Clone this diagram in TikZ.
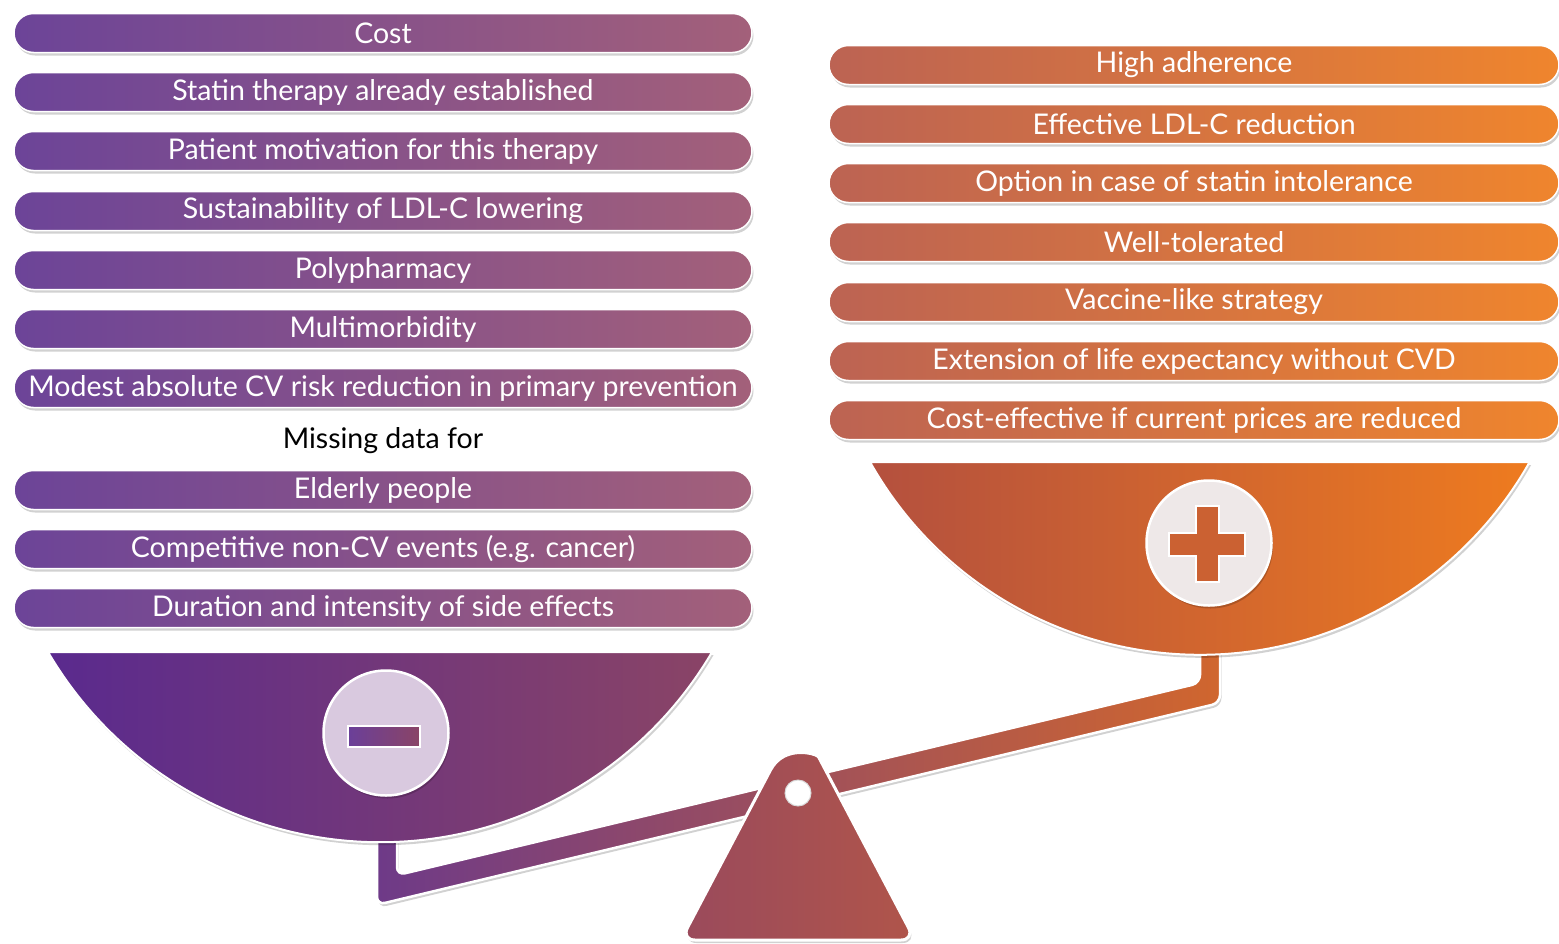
\documentclass[tikz,border=0pt]{standalone}
\usepackage{fontspec}
\setmainfont{Lato}
\usetikzlibrary{shapes.misc,shadows}
\definecolor{lbarL}{HTML}{6C4498}
\definecolor{lbarR}{HTML}{A3607A}
\definecolor{rbarL}{HTML}{BC6353}
\definecolor{rbarR}{HTML}{EF852D}
\definecolor{lbowlL}{HTML}{5A2A8E}
\definecolor{lbowlR}{HTML}{8A4466}
\definecolor{rbowlL}{HTML}{B4503E}
\definecolor{rbowlR}{HTML}{EE7B1F}
\definecolor{beamL}{HTML}{6E3A88}
\definecolor{beamR}{HTML}{D0662E}
\definecolor{fulL}{HTML}{9A4A5C}
\definecolor{fulR}{HTML}{B0554A}
\definecolor{minusfill}{HTML}{D9C9DF}
\definecolor{plusfill}{HTML}{EEE8E8}
\newcommand{\barfont}{\fontsize{28.5}{33}\selectfont}
\begin{document}
\begin{tikzpicture}[x=1pt,y=-1pt,
  softshadow/.style={drop shadow={shadow xshift=1.5pt,shadow yshift=-3pt,opacity=0.18,fill=black}},
  lbar/.style={rounded rectangle, minimum width=738pt, minimum height=39pt, inner sep=0pt,
    left color=lbarL, right color=lbarR, draw=white, line width=1.5pt, text=white, font=\barfont, softshadow},
  rbar/.style={rounded rectangle, minimum width=730pt, minimum height=39pt, inner sep=0pt,
    left color=rbarL, right color=rbarR, draw=white, line width=1.5pt, text=white, font=\barfont, softshadow},
  bowl/.style={draw=white, line width=2pt, softshadow},
  badge/.style={circle, minimum size=125pt, inner sep=0pt, draw=white, line width=2.5pt, softshadow},
]
\useasboundingbox (0,0) rectangle (1559,943);

% beam with stems
\path[left color=beamL, right color=beamR, draw=white, line width=2.5pt, rounded corners=8pt, softshadow]
  (377,830) -- (377,904.8) -- (1220,702.95) -- (1220,640) -- (1200,640)
  -- (1200,683.0) -- (397,875.2) -- (397,830) -- cycle;

% left bowl
\path[bowl, left color=lbowlL, right color=lbowlR]
  (48,652) arc[start angle=149.6, end angle=30.4, radius=385] -- cycle;
% right bowl
\path[bowl, left color=rbowlL, right color=rbowlR]
  (870,462) arc[start angle=150.6, end angle=29.4, radius=378.6] -- cycle;

% fulcrum
\path[left color=fulL, right color=fulR, draw=white, line width=3pt, softshadow]
  (770.9,769.3) [rounded corners=14pt] -- (681,940) -- (915,940) -- (825.1,769.3) [sharp corners]
  arc[start angle=-27.8, end angle=-152.2, radius=30.6] -- cycle;
\node[circle, minimum size=26pt, inner sep=0pt, fill=white, draw=white!85!black, line width=1pt] (hole) at (798,793) {};

% minus badge
\node[badge, fill=minusfill] (minus) at (386,733) {};
\node[rectangle, minimum width=72pt, minimum height=21pt, inner sep=0pt, left color=lbowlL!90!white, right color=lbowlR, draw=white, line width=2pt] (minusbar) at (384,736.5) {};

% plus badge
\node[badge, fill=plusfill] (plus) at (1209,543) {};
\path[fill=rbowlL!60!rbowlR, draw=white, line width=2pt]
  (1195.5,506) -- (1218.5,506) -- (1218.5,532.5) -- (1245,532.5) -- (1245,555.5) -- (1218.5,555.5)
  -- (1218.5,582) -- (1195.5,582) -- (1195.5,555.5) -- (1169,555.5) -- (1169,532.5) -- (1195.5,532.5) -- cycle;

% left bars
\node[lbar] (l1) at (383,33) {Cost};
\node[lbar] (l2) at (383,92) {Statin therapy already established};
\node[lbar] (l3) at (383,151) {Patient motivation for this therapy};
\node[lbar] (l4) at (383,211) {Sustainability of LDL-C lowering};
\node[lbar] (l5) at (383,270) {Polypharmacy};
\node[lbar] (l6) at (383,329) {Multimorbidity};
\node[lbar] (l7) at (383,388) {Modest absolute CV risk reduction in primary prevention};
\node[font=\barfont, text=black] (missing) at (383,441) {Missing data for};
\node[lbar] (l8) at (383,490) {Elderly people};
\node[lbar] (l9) at (383,549) {Competitive non-CV events (e.g. cancer)};
\node[lbar] (l10) at (383,608) {Duration and intensity of side effects};

% right bars
\node[rbar] (r1) at (1194,65) {High adherence};
\node[rbar] (r2) at (1194,124) {Effective LDL-C reduction};
\node[rbar] (r3) at (1194,183) {Option in case of statin intolerance};
\node[rbar] (r4) at (1194,242) {Well-tolerated};
\node[rbar] (r5) at (1194,302) {Vaccine-like strategy};
\node[rbar] (r6) at (1194,361) {Extension of life expectancy without CVD};
\node[rbar] (r7) at (1194,420) {Cost-effective if current prices are reduced};
\end{tikzpicture}
\end{document}
